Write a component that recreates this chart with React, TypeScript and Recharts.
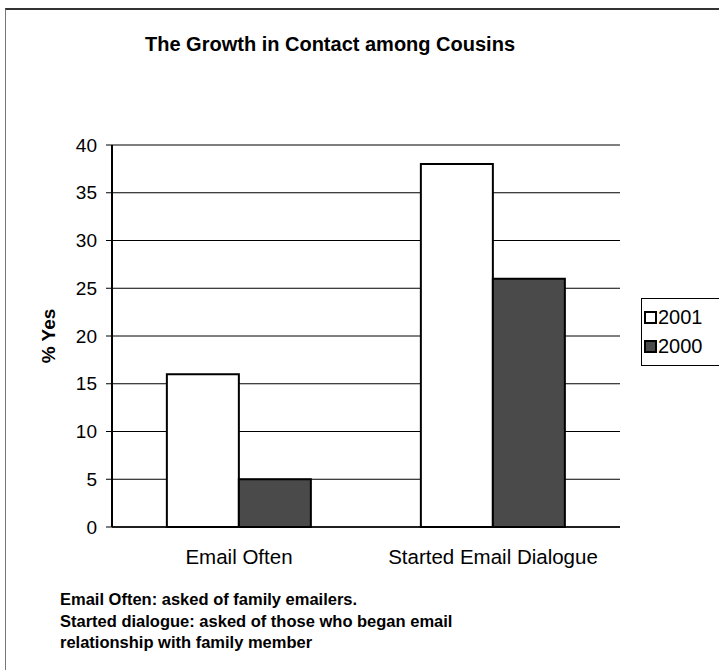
import React from 'react';
import { BarChart, Bar, XAxis, YAxis, CartesianGrid, Legend } from 'recharts';

const categories = ['Email Often', 'Started Email Dialogue'];
const values2001 = [16, 38];
const values2000 = [5, 26];
const yTicks = [0, 5, 10, 15, 20, 25, 30, 35, 40];
const seriesNames = ['2001', '2000'];
const notes = [
  'Email Often: asked of family emailers.',
  'Started dialogue: asked of those who began email',
  'relationship with family member',
];

const data = categories.map((c, i) => ({ name: c, y2001: values2001[i], y2000: values2000[i] }));

const FONT = 'Arial, "Liberation Sans", Helvetica, sans-serif';

const LegendContent = () => (
  <div
    style={{
      border: '1px solid #000',
      padding: '4px 10px 4px 2px',
      background: '#fff',
      fontFamily: FONT,
      fontSize: 20,
      color: '#000',
      lineHeight: '29px',
      width: 90,
    }}
  >
    {seriesNames.map((s, i) => (
      <div key={s} style={{ display: 'flex', alignItems: 'center' }}>
        <span
          style={{
            display: 'inline-block',
            width: 9,
            height: 9,
            border: '2px solid #000',
            background: i === 0 ? '#fff' : '#4a4a4a',
            marginRight: 1,
          }}
        />
        {s}
      </div>
    ))}
  </div>
);

export default function App() {
  return (
    <div style={{ position: 'absolute', left: 0, top: 0, width: 719, height: 670, background: '#fff', overflow: 'hidden' }}>
      <div
        style={{
          position: 'absolute',
          left: 5,
          top: 8,
          width: 720,
          height: 680,
          borderLeft: '1px solid #777',
          borderTop: '2px solid #333',
        }}
      />
      <div
        style={{
          position: 'absolute',
          left: 0,
          width: 660,
          top: 33,
          textAlign: 'center',
          fontFamily: FONT,
          fontWeight: 'bold',
          fontSize: 20,
          color: '#000',
        }}
      >
        The Growth in Contact among Cousins
      </div>
      <BarChart
        width={719}
        height={670}
        data={data}
        margin={{ top: 145, right: 99, left: 52, bottom: 113 }}
        barCategoryGap="21.6%"
        barGap={0}
      >
        <CartesianGrid horizontal vertical={false} stroke="#000" strokeWidth={1} yAxisId="left" />
        <XAxis
          dataKey="name"
          height={30}
          tickLine={false}
          axisLine={{ stroke: '#000', strokeWidth: 1.5 }}
          tick={{ fill: '#000', fontSize: 20.5, fontFamily: FONT }}
          tickMargin={16}
        />
        <YAxis
          yAxisId="left"
          width={60}
          domain={[0, 40]}
          ticks={yTicks}
          interval={0}
          axisLine={{ stroke: '#000', strokeWidth: 2 }}
          tickLine={{ stroke: '#000' }}
          tickSize={6}
          tickMargin={9}
          tick={{ fill: '#000', fontSize: 19, fontFamily: FONT }}
          label={{
            value: '% Yes',
            angle: -90,
            position: 'insideLeft',
            offset: -4,
            style: { fill: '#000', fontSize: 19, fontWeight: 'bold', fontFamily: FONT, textAnchor: 'middle' },
          }}
        />
        <YAxis
          yAxisId="right"
          orientation="right"
          width={0}
          domain={[0, 40]}
          ticks={yTicks}
          tick={false}
          tickLine={false}
          axisLine={{ stroke: '#000', strokeWidth: 1.5 }}
        />
        <Legend
          layout="horizontal"
          verticalAlign="middle"
          align="center"
          content={<LegendContent />}
          wrapperStyle={{ position: 'absolute', left: 641, top: 298, width: 110, right: 'auto', bottom: 'auto' }}
        />
        <Bar
          yAxisId="left"
          dataKey="y2001"
          name={seriesNames[0]}
          fill="#ffffff"
          stroke="#000"
          strokeWidth={2}
          isAnimationActive={false}
        />
        <Bar
          yAxisId="left"
          dataKey="y2000"
          name={seriesNames[1]}
          fill="#4a4a4a"
          stroke="#000"
          strokeWidth={2}
          isAnimationActive={false}
        />
      </BarChart>
      <div
        style={{
          position: 'absolute',
          left: 60,
          top: 589,
          fontFamily: FONT,
          fontWeight: 'bold',
          fontSize: 16.5,
          lineHeight: '21.5px',
          color: '#000',
        }}
      >
        {notes.map((n) => (
          <div key={n}>{n}</div>
        ))}
      </div>
    </div>
  );
}
